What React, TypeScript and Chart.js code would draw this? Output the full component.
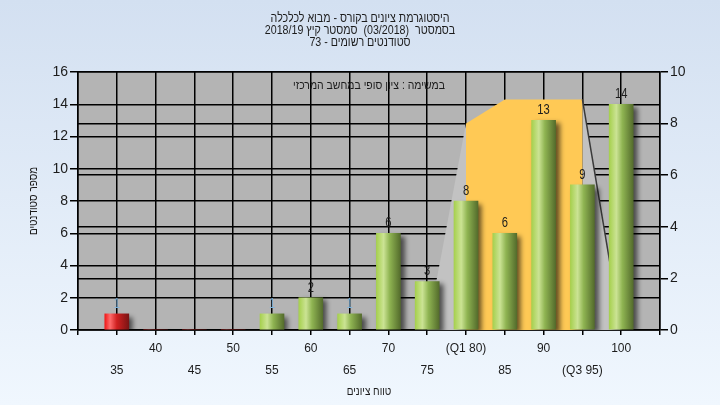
import React, { useEffect, useRef } from 'react';
import { Chart, registerables } from 'chart.js';

Chart.register(...registerables);

// ---- data ----
const gradeBins = [35, 40, 45, 50, 55, 60, 65, 70, 75, 80, 85, 90, 95, 100];
const studentCounts = [1, 0, 0, 0, 1, 2, 1, 6, 3, 8, 6, 13, 9, 14];
const passGrade = 55;
const quartile1 = 80;
const quartile3 = 95;
const boxTopLow = 12.8; // left-axis units, decorative quartile box
const boxTopHigh = 14.3;
const titleLines = [
  'היסטוגרמת ציונים בקורס - מבוא לכלכלה',
  'בסמסטר  (03/2018)  סמסטר קיץ 2018/19',
  'סטודנטים רשומים - 73',
];
const noteText = 'במשימה : ציון סופי במחשב המרכזי';
const xAxisTitle = 'טווח ציונים';
const yAxisTitle = 'מספר סטודנטים';

const FONT = '"Liberation Sans", Arial, sans-serif';
const TEXT = '#1c1c1c';

// draws real text, condensed horizontally (reference uses a narrow face)
function condensedText(
  ctx: CanvasRenderingContext2D,
  text: string,
  x: number,
  y: number,
  size: number,
  squeeze: number,
  rotation = 0,
) {
  ctx.save();
  ctx.translate(x, y);
  if (rotation) ctx.rotate(rotation);
  ctx.scale(squeeze, 1);
  ctx.font = `${size}px ${FONT}`;
  ctx.textAlign = 'center';
  ctx.textBaseline = 'middle';
  ctx.fillText(text, 0, 0);
  ctx.restore();
}

const bgPlugin = {
  id: 'bgPlugin',
  beforeDraw(chart: any) {
    const { ctx, width, height, chartArea: a } = chart;
    ctx.save();
    const g = ctx.createLinearGradient(0, 0, 0, height);
    g.addColorStop(0, '#d3e0f1');
    g.addColorStop(1, '#f0f7fe');
    ctx.fillStyle = g;
    ctx.fillRect(0, 0, width, height);
    ctx.fillStyle = '#b4b4b4';
    ctx.fillRect(a.left, a.top, a.right - a.left, a.bottom - a.top);
    ctx.restore();
  },
};

const quartilePlugin = {
  id: 'quartilePlugin',
  beforeDatasetsDraw(chart: any) {
    const { ctx, chartArea: a } = chart;
    const xs = chart.scales.x;
    const ys = chart.scales.y;
    const X = (v: number) => xs.getPixelForValue(v);
    const Y = (v: number) => ys.getPixelForValue(v);
    const poly = (pts: number[][]) => {
      ctx.beginPath();
      pts.forEach((p, i) => (i ? ctx.lineTo(p[0], p[1]) : ctx.moveTo(p[0], p[1])));
      ctx.closePath();
      ctx.fill();
    };
    ctx.save();
    ctx.beginPath();
    ctx.rect(a.left, a.top, a.right - a.left, a.bottom - a.top);
    ctx.clip();
    ctx.fillStyle = '#c2c2c2';
    poly([[X(quartile1), Y(boxTopLow)], [X(quartile1 - 5), Y(0)], [X(quartile1), Y(0)]]);
    poly([[X(quartile3), Y(boxTopHigh)], [X(quartile3 + 5), Y(0)], [X(quartile3), Y(0)]]);
    ctx.fillStyle = '#ffc955';
    poly([
      [X(quartile1), Y(0)],
      [X(quartile1), Y(boxTopLow)],
      [X(quartile1 + 5), Y(boxTopHigh)],
      [X(quartile3), Y(boxTopHigh)],
      [X(quartile3), Y(0)],
    ]);
    ctx.strokeStyle = '#3a3a3a';
    ctx.lineWidth = 1.5;
    ctx.beginPath();
    ctx.moveTo(X(quartile3), Y(boxTopHigh));
    ctx.lineTo(X(quartile3 + 5), Y(0));
    ctx.stroke();
    ctx.restore();
  },
};

const shadowPlugin = {
  id: 'shadowPlugin',
  beforeDatasetDraw(chart: any) {
    const ctx = chart.ctx;
    ctx.save();
    ctx.shadowColor = 'rgba(0,0,0,0.6)';
    ctx.shadowBlur = 5;
    ctx.shadowOffsetX = 4;
    ctx.shadowOffsetY = 3;
  },
  afterDatasetDraw(chart: any) {
    chart.ctx.restore();
  },
};

const textPlugin = {
  id: 'textPlugin',
  afterDatasetsDraw(chart: any) {
    const { ctx, chartArea: a, width } = chart;
    const meta = chart.getDatasetMeta(0);
    ctx.save();
    meta.data.forEach((el: any, i: number) => {
      const v = studentCounts[i];
      if (!v) return;
      ctx.fillStyle = v === 1 ? '#7fb4dc' : TEXT;
      condensedText(ctx, String(v), el.x, el.y - 10, 14, 0.8);
    });
    ctx.fillStyle = TEXT;
    condensedText(ctx, noteText, (a.left + a.right) / 2, a.top + 14, 12, 0.87);
    titleLines.forEach((line, i) => condensedText(ctx, line, width / 2, 18 + i * 12, 13, 0.82));
    condensedText(ctx, xAxisTitle, (a.left + a.right) / 2, 392, 12, 0.83);
    condensedText(ctx, yAxisTitle, 34, (a.top + a.bottom) / 2, 12, 0.83, -Math.PI / 2);
    ctx.restore();
  },
};

function barFill(c: any) {
  const chart = c.chart;
  const xs = chart.scales && chart.scales.x;
  const i = c.dataIndex;
  const fail = gradeBins[i] < passGrade;
  if (!chart.chartArea || !xs || c.type !== 'data') return fail ? '#e02020' : '#9cc44a';
  const px = xs.getPixelForValue(gradeBins[i]);
  const g = chart.ctx.createLinearGradient(px - 12, 0, px + 12, 0);
  if (fail) {
    g.addColorStop(0, '#f01818');
    g.addColorStop(0.22, '#ff6c6c');
    g.addColorStop(0.5, '#d02020');
    g.addColorStop(1, '#7a1414');
  } else {
    g.addColorStop(0, '#a6d04e');
    g.addColorStop(0.3, '#cbe394');
    g.addColorStop(0.55, '#8fb452');
    g.addColorStop(1, '#546c2c');
  }
  return g;
}

export default function App() {
  const ref = useRef<HTMLCanvasElement | null>(null);
  useEffect(() => {
    if (!ref.current) return;
    Chart.defaults.font.family = FONT;
    const gridCommon = { color: '#000', lineWidth: 1.5, offset: false };
    const chart = new Chart(ref.current, {
      type: 'bar',
      data: {
        datasets: [
          {
            data: gradeBins.map((x, i) => ({ x, y: studentCounts[i] })),
            backgroundColor: barFill,
            borderWidth: 0,
            barThickness: 24,
          } as any,
        ],
      },
      options: {
        responsive: false,
        animation: false,
        devicePixelRatio: 1,
        layout: { padding: { top: 72, left: 0, right: 0, bottom: 6 } },
        plugins: {
          legend: { display: false },
          tooltip: { enabled: false },
          title: { display: false },
        },
        scales: {
          x: {
            type: 'linear',
            min: 30,
            max: 105,
            offset: false,
            grid: { ...gridCommon, tickLength: 5 },
            border: { color: '#000', width: 1.5 },
            ticks: {
              stepSize: 5,
              autoSkip: false,
              maxRotation: 0,
              minRotation: 0,
              padding: 3,
              color: TEXT,
              font: { size: 12, lineHeight: 1.8 },
              callback: (v: any) => {
                const n = Number(v);
                if (n < gradeBins[0] || n > gradeBins[gradeBins.length - 1]) return '';
                let t = String(n);
                if (n === quartile1) t = `(Q1 ${n})`;
                if (n === quartile3) t = `(Q3 ${n})`;
                const k = Math.round((n - gradeBins[0]) / 5);
                return k % 2 === 0 ? ['', t] : [t];
              },
            },
            afterFit: (s: any) => {
              s.height = 69;
            },
          },
          y: {
            position: 'left',
            min: 0,
            max: 16,
            grid: { ...gridCommon, tickLength: 8 },
            border: { color: '#000', width: 1.5 },
            ticks: { stepSize: 2, padding: 2, color: TEXT, font: { size: 14 } },
            afterFit: (s: any) => {
              s.width = 78;
            },
          },
          y1: {
            position: 'right',
            min: 0,
            max: 10,
            grid: { ...gridCommon, tickLength: 8 },
            border: { color: '#000', width: 1.5 },
            ticks: { stepSize: 2, padding: 2, color: TEXT, font: { size: 14 } },
            afterFit: (s: any) => {
              s.width = 60;
            },
          },
        },
      } as any,
      plugins: [bgPlugin, quartilePlugin, shadowPlugin, textPlugin],
    });
    return () => chart.destroy();
  }, []);
  return (
    <div style={{ position: 'fixed', left: 0, top: 0, width: 720, height: 405 }}>
      <canvas ref={ref} width={720} height={405} style={{ display: 'block', width: 720, height: 405 }} />
    </div>
  );
}
